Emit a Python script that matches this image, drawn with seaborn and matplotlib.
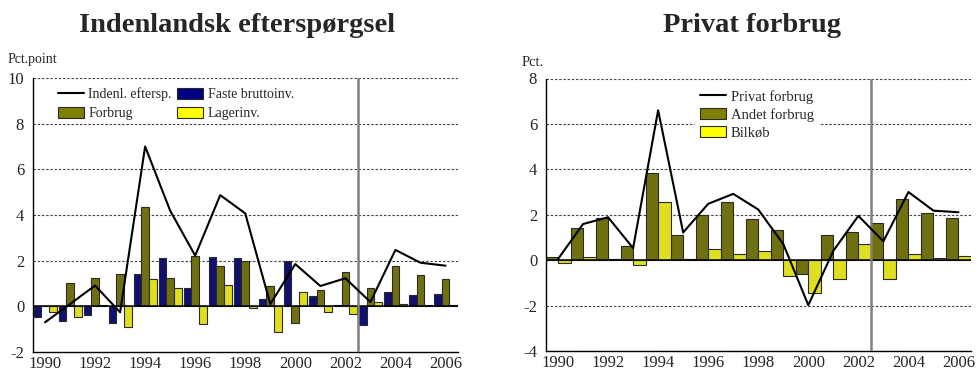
import numpy as np
import pandas as pd
import matplotlib
matplotlib.use("Agg")
import matplotlib.pyplot as plt
from matplotlib.lines import Line2D
from matplotlib.patches import Patch
import seaborn as sns

years = list(range(1990, 2007))
year_labels = [str(y) for y in years]

# Indenlandsk efterspørgsel (bidrag, pct.point)
indenl = [-0.70, 0.10, 0.91, -0.26, 7.00, 4.19, 2.22, 4.87, 4.07, 0.10, 1.85, 0.89, 1.23, 0.19, 2.47, 1.91, 1.78]
faste = [-0.45, -0.63, -0.39, -0.74, 1.40, 2.13, 0.79, 2.17, 2.13, 0.32, 1.98, 0.45, 0.06, -0.80, 0.64, 0.51, 0.55]
forbrug = [0.02, 1.02, 1.25, 1.40, 4.36, 1.25, 2.20, 1.77, 1.97, 0.88, -0.71, 0.71, 1.50, 0.80, 1.77, 1.37, 1.21]
lager = [-0.23, -0.48, 0.05, -0.90, 1.20, 0.80, -0.79, 0.95, -0.08, -1.12, 0.61, -0.26, -0.32, 0.19, 0.09, 0.05, 0.05]

# Privat forbrug (pct.)
privat = [0.05, 1.59, 1.89, 0.53, 6.60, 1.22, 2.48, 2.92, 2.23, 0.71, -1.98, 0.41, 1.95, 0.83, 3.00, 2.18, 2.11]
andet = [0.15, 1.42, 1.86, 0.63, 3.86, 1.10, 1.99, 2.58, 1.81, 1.34, -0.59, 1.10, 1.25, 1.64, 2.70, 2.09, 1.86]
bilkob = [-0.13, 0.15, 0.04, -0.21, 2.58, 0.07, 0.47, 0.27, 0.41, -0.71, -1.43, -0.81, 0.69, -0.84, 0.27, 0.09, 0.19]

NAVY = "#000080"
OLIVE = "#808000"
YELLOW = "#FFFF00"
EDGE = "#2a2a2a"

sns.set_theme(style="white")
plt.rcParams["font.family"] = ["Liberation Serif", "DejaVu Serif"]

fig = plt.figure(figsize=(9.77, 3.75), dpi=100)

left_ax = fig.add_axes([32.5 / 977, 23 / 375, 425.5 / 977, 274 / 375])
right_ax = fig.add_axes([545.5 / 977, 24 / 375, 425.5 / 977, 272.5 / 375])


def style_axes(ax, ymin, ymax, ticks):
    n = len(years)
    ax.set_xlim(-0.5, n - 0.5)
    ax.set_ylim(ymin, ymax)
    ax.set_yticks(ticks)
    ax.set_yticklabels([str(t) for t in ticks])
    ax.set_xticks(range(0, n, 2))
    ax.set_xticklabels(year_labels[::2])
    ax.set_xticks(np.arange(-0.5, n, 1.0), minor=True)
    ax.tick_params(axis="x", which="major", length=0, pad=3, labelsize=12)
    ax.tick_params(axis="x", which="minor", length=4, width=0.9, color="black", direction="out")
    ax.tick_params(axis="y", length=4, width=0.9, color="black", direction="out", pad=2, labelsize=12)
    ax.set_xlabel("")
    ax.set_ylabel("")
    for side in ("top", "right"):
        ax.spines[side].set_visible(False)
    for side in ("left", "bottom"):
        ax.spines[side].set_color("black")
        ax.spines[side].set_linewidth(1.0)
    for t in ticks:
        if t != 0 and t != ymin:
            ax.axhline(t, color="#444444", lw=0.8, ls=(0, (2.2, 1.6)), zorder=0.5)
    ax.axhline(0, color="black", lw=1.1, zorder=3)
    ax.axvline(12.5, color="#7f7f7f", lw=1.8, zorder=4)
    ax.set_facecolor("white")


# Left panel: contributions to domestic demand
left_df = pd.DataFrame({
    "year": year_labels * 3,
    "value": faste + forbrug + lager,
    "serie": ["Faste bruttoinv."] * 17 + ["Forbrug"] * 17 + ["Lagerinv."] * 17,
})
sns.barplot(data=left_df, x="year", y="value", hue="serie",
            hue_order=["Faste bruttoinv.", "Forbrug", "Lagerinv."],
            palette=[NAVY, OLIVE, YELLOW], width=0.92, edgecolor=EDGE,
            linewidth=0.8, legend=False, ax=left_ax, zorder=2)
sns.lineplot(x=np.arange(len(years)), y=indenl, color="black", lw=1.5,
             ax=left_ax, zorder=5)
style_axes(left_ax, -2, 10, list(range(-2, 11, 2)))

left_handles = [
    Line2D([0], [0], color="black", lw=1.5),
    Patch(facecolor=OLIVE, edgecolor=EDGE, lw=0.8),
    Patch(facecolor=NAVY, edgecolor=EDGE, lw=0.8),
    Patch(facecolor=YELLOW, edgecolor=EDGE, lw=0.8),
]
left_labels = ["Indenl. eftersp.", "Forbrug", "Faste bruttoinv.", "Lagerinv."]
left_ax.legend(left_handles, left_labels, ncol=2, loc="upper left",
               bbox_to_anchor=(0.04, 0.995), frameon=False, fontsize=10,
               handlelength=1.85, handleheight=0.8, handletextpad=0.35,
               columnspacing=0.4, labelspacing=0.42, borderaxespad=0.2)

# Right panel: private consumption
right_df = pd.DataFrame({
    "year": year_labels * 2,
    "value": andet + bilkob,
    "serie": ["Andet forbrug"] * 17 + ["Bilkøb"] * 17,
})
sns.barplot(data=right_df, x="year", y="value", hue="serie",
            hue_order=["Andet forbrug", "Bilkøb"],
            palette=[OLIVE, YELLOW], width=1.0, edgecolor=EDGE,
            linewidth=0.8, legend=False, ax=right_ax, zorder=2)
sns.lineplot(x=np.arange(len(years)), y=privat, color="black", lw=1.5,
             ax=right_ax, zorder=5)
style_axes(right_ax, -4, 8, list(range(-4, 9, 2)))
right_ax.axhline(-4, color="#444444", lw=0.8, ls=(0, (2.2, 1.6)), zorder=0.5)

right_handles = [
    Line2D([0], [0], color="black", lw=1.5),
    Patch(facecolor=OLIVE, edgecolor=EDGE, lw=0.8),
    Patch(facecolor=YELLOW, edgecolor=EDGE, lw=0.8),
]
right_labels = ["Privat forbrug", "Andet forbrug", "Bilkøb"]
leg = right_ax.legend(right_handles, right_labels, loc="upper left",
                      bbox_to_anchor=(0.345, 0.985), frameon=True, fontsize=10.5,
                      handlelength=1.8, handleheight=0.8, handletextpad=0.35,
                      labelspacing=0.3, borderaxespad=0.2, borderpad=0.3)
leg.get_frame().set_facecolor("white")
leg.get_frame().set_edgecolor("white")
leg.get_frame().set_alpha(1.0)
leg.set_zorder(6)

# Titles and unit labels
fig.text(237 / 977, 1 - 25 / 375, "Indenlandsk efterspørgsel", ha="center",
         va="center", fontsize=20.5, fontweight="bold")
fig.text(752 / 977, 1 - 25 / 375, "Privat forbrug", ha="center",
         va="center", fontsize=20.5, fontweight="bold")
fig.text(8 / 977, 1 - 60 / 375, "Pct.point", ha="left", va="center", fontsize=10)
fig.text(522 / 977, 1 - 62 / 375, "Pct.", ha="left", va="center", fontsize=10.5)

fig.savefig("out.png", dpi=100, facecolor="white")
